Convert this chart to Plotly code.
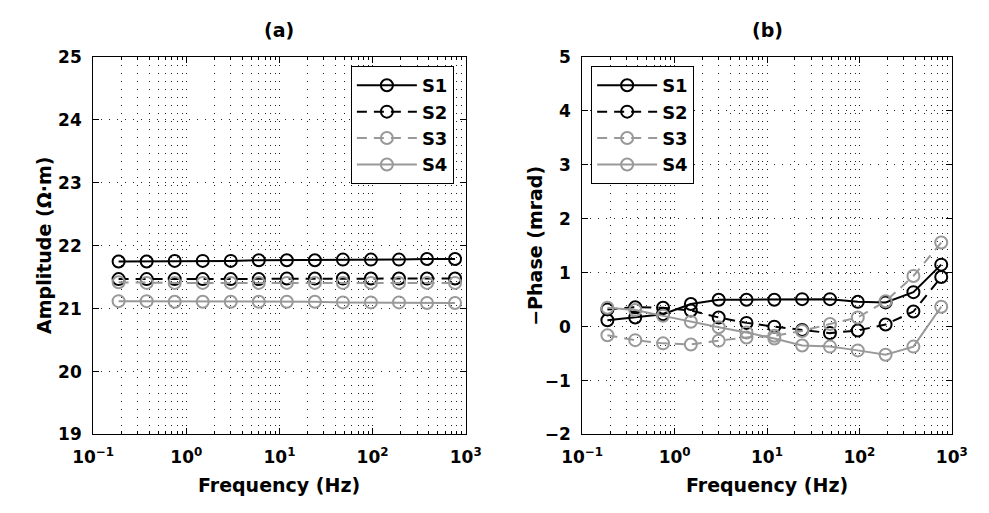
import plotly.graph_objects as go

freq = [0.1875, 0.375, 0.75, 1.5, 3, 6, 12, 24, 48, 96, 192, 384, 768]

amp_s1 = [21.75, 21.75, 21.76, 21.76, 21.76, 21.77, 21.77, 21.77, 21.78, 21.78, 21.78, 21.79, 21.79]
amp_s2 = [21.47, 21.47, 21.47, 21.47, 21.47, 21.47, 21.48, 21.48, 21.48, 21.48, 21.48, 21.48, 21.48]
amp_s3 = [21.42, 21.41, 21.41, 21.41, 21.41, 21.41, 21.41, 21.41, 21.41, 21.41, 21.41, 21.41, 21.41]
amp_s4 = [21.12, 21.12, 21.11, 21.11, 21.11, 21.11, 21.11, 21.11, 21.10, 21.10, 21.10, 21.09, 21.09]

ph_s1 = [0.12, 0.17, 0.23, 0.42, 0.50, 0.50, 0.50, 0.51, 0.51, 0.46, 0.45, 0.64, 1.15]
ph_s2 = [0.32, 0.36, 0.35, 0.30, 0.17, 0.07, 0.00, -0.06, -0.12, -0.07, 0.04, 0.28, 0.92]
ph_s3 = [-0.16, -0.25, -0.31, -0.33, -0.26, -0.20, -0.17, -0.08, 0.05, 0.17, 0.47, 0.94, 1.56]
ph_s4 = [0.35, 0.31, 0.20, 0.09, -0.01, -0.11, -0.22, -0.35, -0.37, -0.44, -0.52, -0.37, 0.37]

names = ["S1", "S2", "S3", "S4"]
x_tickvals = [0.1, 1, 10, 100, 1000]
x_ticktext = ["10<sup>−1</sup>", "10<sup>0</sup>", "10<sup>1</sup>", "10<sup>2</sup>", "10<sup>3</sup>"]

BLACK = "#000000"
GRAY = "#999999"
styles = [
    (BLACK, "solid"),
    (BLACK, "10px,7px"),
    (GRAY, "10px,7px"),
    (GRAY, "solid"),
]

W, H = 989, 513
FONT = "DejaVu Sans"

fig = go.Figure()

for i, (nm, ys) in enumerate(zip(names, [amp_s1, amp_s2, amp_s3, amp_s4])):
    col, dash = styles[i]
    fig.add_trace(go.Scatter(
        x=freq, y=ys, name=nm, mode="lines+markers",
        line=dict(color=col, width=2, dash=dash),
        marker=dict(symbol="circle-open", size=12, color=col, line=dict(width=2, color=col)),
        xaxis="x", yaxis="y", legend="legend", legendgroup="a" + nm,
    ))

for i, (nm, ys) in enumerate(zip(names, [ph_s1, ph_s2, ph_s3, ph_s4])):
    col, dash = styles[i]
    fig.add_trace(go.Scatter(
        x=freq, y=ys, name=nm, mode="lines+markers",
        line=dict(color=col, width=2, dash=dash),
        marker=dict(symbol="circle-open", size=12, color=col, line=dict(width=2, color=col)),
        xaxis="x2", yaxis="y2", legend="legend2", legendgroup="b" + nm,
    ))

grid = dict(gridcolor="#222222", griddash="1px,7px", gridwidth=1)
tickfont = dict(family=FONT, size=17, color="black", weight="bold")

def xax(domain, anchor):
    return dict(
        type="log", range=[-1, 3], domain=domain, anchor=anchor,
        tickvals=x_tickvals, ticktext=x_ticktext,
        ticks="inside", ticklen=6, tickcolor="black", tickwidth=1,
        ticklabelstandoff=7,
        showline=True, linecolor="black", linewidth=1, mirror="ticks",
        showgrid=True, zeroline=False,
        tickfont=tickfont,
        minor=dict(ticks="inside", ticklen=3, tickcolor="black", dtick="D1",
                   showgrid=True, **grid),
        **grid,
    )

def yax(domain, anchor, rng):
    return dict(
        range=rng, dtick=1, domain=domain, anchor=anchor,
        ticks="inside", ticklen=6, tickcolor="black", tickwidth=1,
        ticklabelstandoff=7,
        showline=True, linecolor="black", linewidth=1, mirror="ticks",
        showgrid=True, zeroline=False,
        tickfont=tickfont,
        **grid,
    )

xa = [75 / W, 462 / W]
xb = [583 / W, 967 / W]
yd = [1 - 441.7 / H, 1 - 49 / H]

legend_common = dict(
    xanchor="left", yanchor="top",
    bgcolor="white", bordercolor="black", borderwidth=1,
    font=dict(family=FONT, size=18, color="black", weight="bold"),
    traceorder="grouped", tracegroupgap=0, itemwidth=60,
)

title_font = dict(family=FONT, size=19, color="black", weight="bold")

fig.update_layout(
    width=W, height=H,
    margin=dict(l=0, r=0, t=0, b=0),
    paper_bgcolor="white", plot_bgcolor="white",
    xaxis=xax(xa, "y"), yaxis=yax(yd, "x", [19, 25]),
    xaxis2=xax(xb, "y2"), yaxis2=yax(yd, "x2", [-2, 5]),
    legend=dict(x=342.7 / W, y=1 - 58.3 / H, **legend_common),
    legend2=dict(x=592.3 / W, y=1 - 58.3 / H, **legend_common),
    showlegend=True,
    annotations=[
        dict(text="(a)", x=(xa[0] + xa[1]) / 2, y=1 - 21 / H, xref="paper", yref="paper",
             showarrow=False, xanchor="center", yanchor="middle", font=title_font),
        dict(text="(b)", x=(xb[0] + xb[1]) / 2, y=1 - 21 / H, xref="paper", yref="paper",
             showarrow=False, xanchor="center", yanchor="middle", font=title_font),
        dict(text="Frequency (Hz)", x=(xa[0] + xa[1]) / 2, y=1 - 494 / H, xref="paper", yref="paper",
             showarrow=False, xanchor="center", yanchor="middle", font=title_font),
        dict(text="Frequency (Hz)", x=(xb[0] + xb[1]) / 2, y=1 - 494 / H, xref="paper", yref="paper",
             showarrow=False, xanchor="center", yanchor="middle", font=title_font),
        dict(text="Amplitude (Ω·m)", x=24 / W, y=(yd[0] + yd[1]) / 2, xref="paper", yref="paper",
             showarrow=False, xanchor="center", yanchor="middle", textangle=-90, font=title_font),
        dict(text="−Phase (mrad)", x=534 / W, y=(yd[0] + yd[1]) / 2, xref="paper", yref="paper",
             showarrow=False, xanchor="center", yanchor="middle", textangle=-90, font=title_font),
    ],
)

fig.write_html("out.html")
